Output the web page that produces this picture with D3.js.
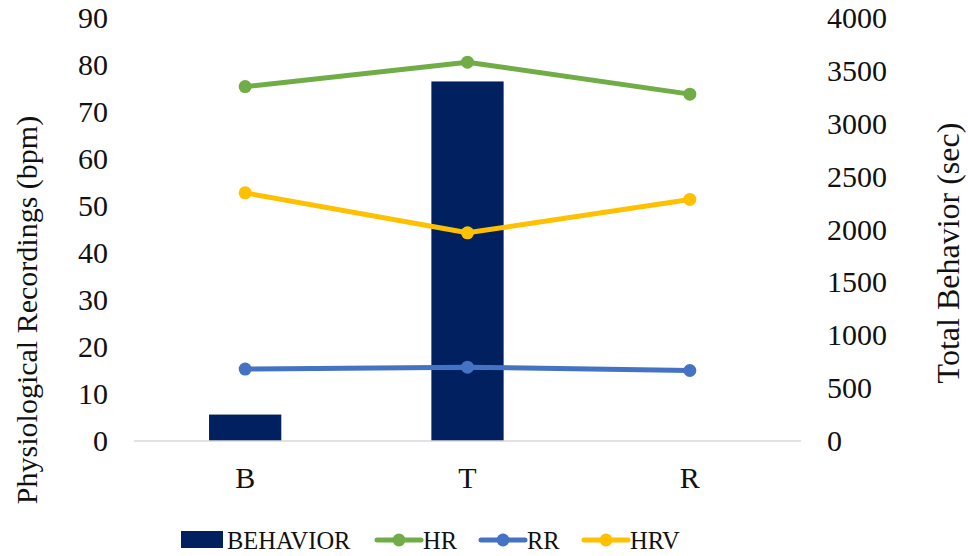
<!DOCTYPE html>
<html lang="en">
<head>
<meta charset="UTF-8">
<title>Behavior and Physiological Recordings</title>
<script src="https://d3js.org/d3.v7.min.js"></script>
<style>
    body { margin: 0; background: #fff; }
    svg text { font-family: "Liberation Serif", "Times New Roman", Times, serif; fill: #111; }
    .tick-label { font-size: 30px; }
    .axis-title { font-size: 30px; }
    .legend-text { font-size: 24.5px; }
</style>
</head>
<body>
<svg id="chart"></svg>
<script>
    const phases = ["B", "T", "R"];
    const behavior = [250, 3400, 0];
    const hr = [75.4, 80.6, 73.8];
    const rr = [15.3, 15.7, 15.0];
    const hrv = [52.8, 44.3, 51.4];
    const leftTicks = [0, 10, 20, 30, 40, 50, 60, 70, 80, 90];
    const rightTicks = [0, 500, 1000, 1500, 2000, 2500, 3000, 3500, 4000];

    const W = 968, H = 556;
    const plot = {left: 134, right: 801, top: 18, bottom: 441};

    const svg = d3.select("#chart").attr("width", W).attr("height", H);

    const x = d3.scaleBand().domain(phases).range([plot.left, plot.right]).paddingInner(0).paddingOuter(0);
    const xBar = d3.scaleBand().domain(phases).range([plot.left, plot.right]).paddingInner(0.675).paddingOuter(0.3375);
    const yL = d3.scaleLinear().domain([0, 90]).range([plot.bottom, plot.top]);
    const yR = d3.scaleLinear().domain([0, 4000]).range([plot.bottom, plot.top]);

    // bars (right axis)
    svg.selectAll(".bar")
        .data(phases.map((p, i) => ({p, v: behavior[i]})).filter(d => d.v > 0))
        .enter().append("rect")
        .attr("x", d => xBar(d.p))
        .attr("y", d => yR(d.v))
        .attr("width", xBar.bandwidth())
        .attr("height", d => yR(0) - yR(d.v))
        .attr("fill", "#002060");

    // baseline
    svg.append("line")
        .attr("x1", plot.left).attr("x2", plot.right)
        .attr("y1", yL(0)).attr("y2", yL(0))
        .attr("stroke", "#d9d9d9").attr("stroke-width", 1.5);

    function clean(g) {
        g.select(".domain").remove();
        g.attr("font-size", null).attr("font-family", null);
        g.selectAll("text").attr("class", "tick-label");
    }

    // left axis labels
    svg.append("g")
        .attr("transform", `translate(${plot.left - 26},0)`)
        .call(d3.axisLeft(yL).tickValues(leftTicks).tickSize(0).tickPadding(0))
        .call(clean);

    // right axis labels
    svg.append("g")
        .attr("transform", `translate(${plot.right + 26},0)`)
        .call(d3.axisRight(yR).tickValues(rightTicks).tickFormat(d3.format("d")).tickSize(0).tickPadding(0))
        .call(clean);

    // x labels
    svg.append("g")
        .attr("transform", `translate(0,${plot.bottom + 26})`)
        .call(d3.axisBottom(x).tickSize(0).tickPadding(0))
        .call(clean);

    // lines
    const series = [
        {name: "HR", values: hr, color: "#70ad47"},
        {name: "RR", values: rr, color: "#4472c4"},
        {name: "HRV", values: hrv, color: "#ffc000"}
    ];
    const line = d3.line()
        .x((d, i) => x(phases[i]) + x.bandwidth() / 2)
        .y(d => yL(d));
    series.forEach(s => {
        svg.append("path")
            .datum(s.values)
            .attr("d", line)
            .attr("fill", "none")
            .attr("stroke", s.color)
            .attr("stroke-width", 5)
            .attr("stroke-linejoin", "round");
        svg.selectAll(null)
            .data(s.values)
            .enter().append("circle")
            .attr("cx", (d, i) => x(phases[i]) + x.bandwidth() / 2)
            .attr("cy", d => yL(d))
            .attr("r", 6.5)
            .attr("fill", s.color);
    });

    // axis titles
    svg.append("text")
        .attr("class", "axis-title")
        .attr("transform", `translate(37,310) rotate(-90)`)
        .attr("text-anchor", "middle")
        .text("Physiological Recordings (bpm)");
    svg.append("text")
        .attr("class", "axis-title")
        .style("font-size", "32px")
        .attr("transform", `translate(959,253) rotate(-90)`)
        .attr("text-anchor", "middle")
        .text("Total Behavior (sec)");

    // legend
    const legendY = 540;
    const legend = svg.append("g");
    legend.append("rect")
        .attr("x", 181).attr("y", legendY - 9).attr("width", 42).attr("height", 17)
        .attr("fill", "#002060");
    legend.append("text").attr("class", "legend-text")
        .attr("x", 227).attr("y", legendY).attr("dy", "0.35em").text("BEHAVIOR");
    const lineLegend = [
        {s: series[0], x0: 377},
        {s: series[1], x0: 481},
        {s: series[2], x0: 584}
    ];
    lineLegend.forEach(d => {
        legend.append("line")
            .attr("x1", d.x0).attr("x2", d.x0 + 44)
            .attr("y1", legendY).attr("y2", legendY)
            .attr("stroke", d.s.color).attr("stroke-width", 5).attr("stroke-linecap", "round");
        legend.append("circle")
            .attr("cx", d.x0 + 22).attr("cy", legendY).attr("r", 6.5).attr("fill", d.s.color);
        legend.append("text").attr("class", "legend-text")
            .attr("x", d.x0 + 46).attr("y", legendY).attr("dy", "0.35em").text(d.s.name);
    });
</script>
</body>
</html>
